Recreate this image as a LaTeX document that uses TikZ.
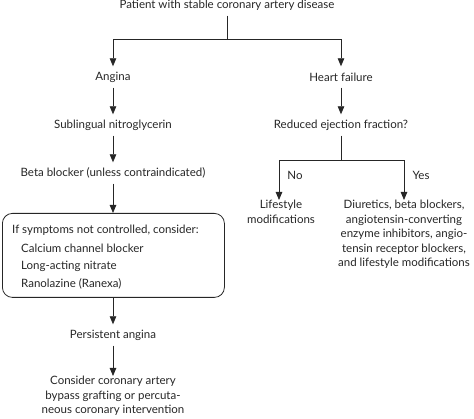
\documentclass[tikz,border=0pt]{standalone}
\usepackage{fontspec}
\setmainfont{Lato}
\usetikzlibrary{arrows.meta}
\begin{document}
\begin{tikzpicture}[x=1pt,y=-1pt,
  fnt/.style={text=black!85, font=\fontsize{11.5}{14.5}\selectfont},
  txt/.style={fnt, inner sep=0pt, minimum height=21pt},
  multi/.style={fnt, inner xsep=0pt, inner ysep=0pt, align=center},
  conn/.style={line width=0.8pt, black!85},
  arr/.style={conn, -{Triangle[length=8pt,width=6.5pt]}},
  boxline/.style={fnt, inner sep=0pt, anchor=west},
  lbl/.style={fnt, inner sep=0pt}
]
\useasboundingbox (0,0) rectangle (474,419);
% left column
\node[txt] (title) at (227,5) {Patient with stable coronary artery disease};
\coordinate (split) at (227,39);
\node[txt] (angina) at (113,77) {Angina};
\node[txt] (heart) at (341,77) {Heart failure};
\node[txt] (nitro) at (113,125) {Sublingual nitroglycerin};
\node[txt] (reduced) at (341,125) {Reduced ejection fraction?};
\node[txt] (beta) at (113,173) {Beta blocker (unless contraindicated)};
\node[draw, line width=0.8pt, draw=black!85, rounded corners=10pt, minimum width=222pt, minimum height=84pt, anchor=north west, inner sep=0pt] (box) at (2,213) {};
\node[boxline] (b1) at (12,230) {If symptoms not controlled, consider:};
\node[boxline] (b2) at (21,248) {Calcium channel blocker};
\node[boxline] (b3) at (21,266) {Long-acting nitrate};
\node[boxline] (b4) at (21,284) {Ranolazine (Ranexa)};
\node[txt] (persist) at (113,335) {Persistent angina};
\node[multi, anchor=north] (cabg) at (113,376) {Consider coronary artery\\bypass grafting or percuta-\\neous coronary intervention};
% right branch
\coordinate (split2) at (341,160);
\node[multi, anchor=north] (life) at (281,200) {Lifestyle\\modifications};
\node[multi, anchor=north] (diur) at (404,200) {Diuretics, beta blockers,\\angiotensin-converting\\enzyme inhibitors, angio-\\tensin receptor blockers,\\and lifestyle modifications};
\node[lbl] (no) at (295,175) {No};
\node[lbl] (yes) at (421,175) {Yes};
% connectors
\draw[conn] (title.south) -- (split);
\draw[arr] (split) -| (angina.north);
\draw[arr] (split) -| (heart.north);
\draw[arr] (angina) -- (nitro);
\draw[arr] (nitro) -- (beta);
\draw[arr] (beta.south) -- (beta.south |- box.north);
\draw[arr] (box.south -| persist.north) -- (persist.north);
\draw[arr] (persist) -- (cabg);
\draw[arr] (heart) -- (reduced);
\draw[conn] (reduced.south) -- (split2);
\draw[arr] (split2) -| ([xshift=-2pt]life.north);
\draw[arr] (split2) -| (diur.north);
\end{tikzpicture}
\end{document}
